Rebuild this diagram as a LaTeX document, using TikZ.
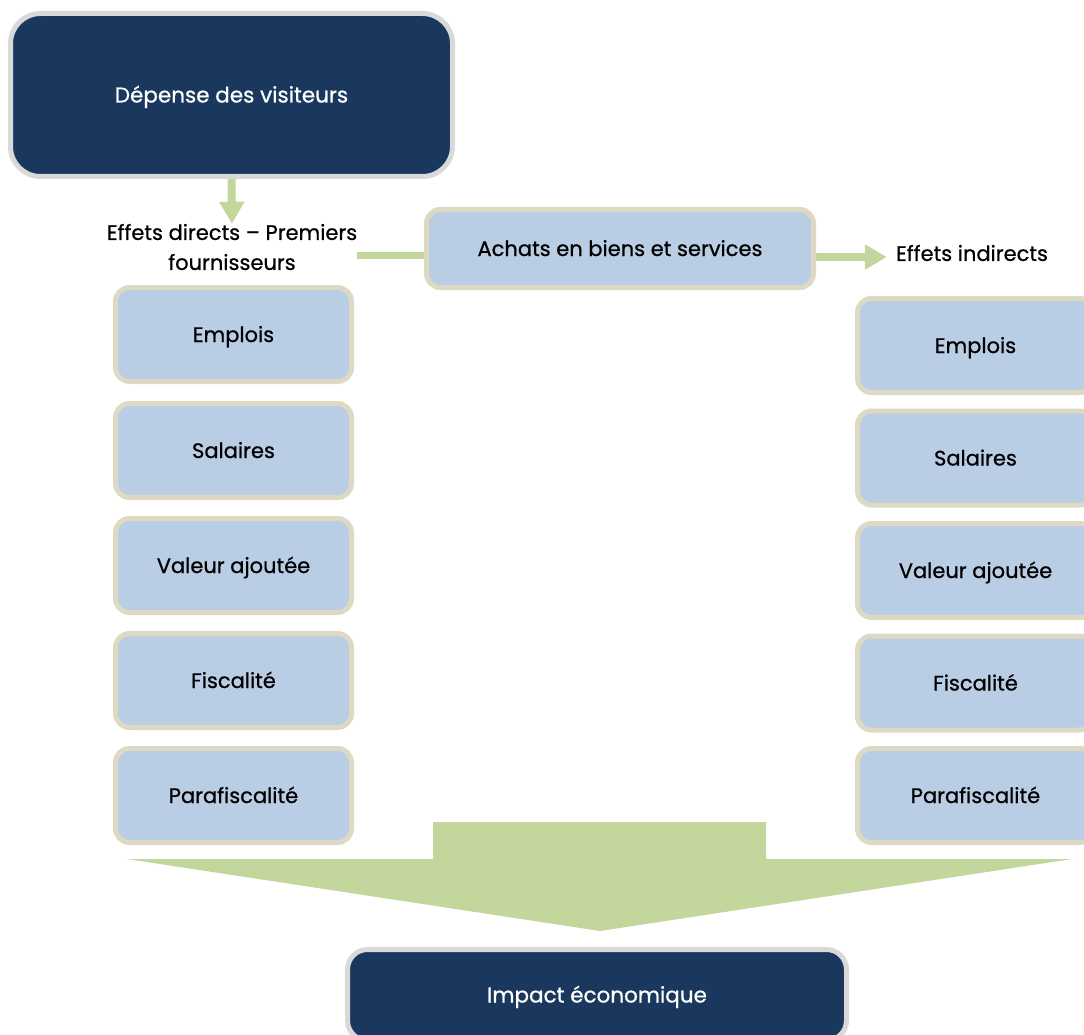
\documentclass[tikz,border=0pt]{standalone}
\usepackage{fontspec}
\setmainfont{Poppins}[FakeBold=0.7]
\usetikzlibrary{arrows.meta,calc}
\definecolor{navy}{RGB}{26,55,94}
\definecolor{graybd}{RGB}{217,217,217}
\definecolor{beige}{RGB}{221,217,195}
\definecolor{lblue}{RGB}{185,205,229}
\definecolor{lgreen}{RGB}{195,214,155}
\begin{document}
\begin{tikzpicture}[x=1pt,y=-1pt,
  darkbox/.style={draw=graybd, fill=navy, line width=5pt, text=white,
    font=\fontsize{21.5}{25}\selectfont, text height=15pt, text depth=0pt, inner sep=0pt},
  itembox/.style={draw=beige, fill=lblue, line width=5pt, rounded corners=14pt,
    minimum width=236pt, minimum height=94pt, inner sep=0pt,
    font=\fontsize{21}{25}\selectfont, text height=15pt, text depth=0pt},
  txt/.style={font=\fontsize{21}{30}\selectfont, align=center, inner sep=0pt},
  gline/.style={draw=lgreen, line width=8pt},
  garrow/.style={gline, -{Triangle[width=24pt,length=22pt]}}]
\clip (0,0) rectangle (1084,1035);
% top box
\node[darkbox, rounded corners=30pt, minimum width=442pt, minimum height=163pt] (dep) at (231.5,95) {Dépense des visiteurs};
% direct effects label
\node[txt] (dir) at (232,247) {Effets directs – Premiers\\fournisseurs};
% purchases
\node[itembox, minimum width=387pt, minimum height=78pt] (ach) at (620,248.5) {Achats en biens et services};
% indirect label
\node[txt, inner sep=4pt] (ind) at (972,253) {Effets indirects};
% left column
\node[itembox] (l1) at (233.5,334.5) {Emplois};
\node[itembox] (l2) at (233.5,450.5) {Salaires};
\node[itembox] (l3) at (233.5,565.5) {Valeur ajoutée};
\node[itembox] (l4) at (233.5,680.5) {Fiscalité};
\node[itembox] (l5) at (233.5,795.5) {Parafiscalité};
% right column
\node[itembox] (r1) at (975.5,345.5) {Emplois};
\node[itembox] (r2) at (975.5,458) {Salaires};
\node[itembox] (r3) at (975.5,570.5) {Valeur ajoutée};
\node[itembox] (r4) at (975.5,683) {Fiscalité};
\node[itembox] (r5) at (975.5,795.5) {Parafiscalité};
% funnel arrow
\fill[lgreen] (433,822) -- (766,822) -- (766,859) -- (1072,859) -- (600,931) -- (127,859) -- (433,859) -- cycle;
% impact box
\node[darkbox, rounded corners=20pt, minimum width=499pt, minimum height=91pt] (imp) at (597,995) {Impact économique};
% connectors
\coordinate (gl) at (0,255);
\coordinate (ar) at (0,257);
\draw[garrow] (dep.south) -- (dir.north);
\draw[gline, line width=7pt] (dir.east |- gl) -- (ach.west |- gl);
\draw[garrow, shorten >=5pt] (ach.east |- ar) -- (ind.west |- ar);
\end{tikzpicture}
\end{document}
